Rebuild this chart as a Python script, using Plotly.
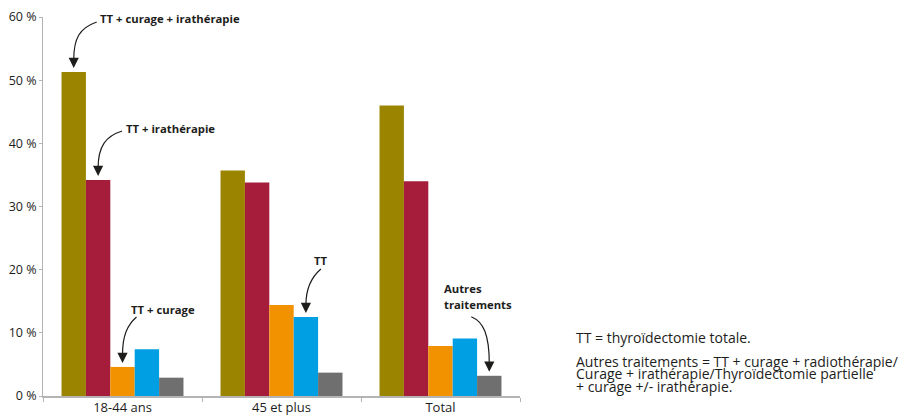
import plotly.graph_objects as go

# données (en %)
categories = ["18-44 ans", "45 et plus", "Total"]
series_names = ["TT + curage + irathérapie", "TT + irathérapie", "TT + curage", "TT", "Autres traitements"]
tt_curage_irath = [51.3, 35.7, 46.0]
tt_irath = [34.2, 33.8, 34.0]
tt_curage = [4.6, 14.4, 7.9]
tt_seul = [7.4, 12.5, 9.1]
autres = [2.9, 3.7, 3.2]
y_ticks = [0, 10, 20, 30, 40, 50, 60]

series = [tt_curage_irath, tt_irath, tt_curage, tt_seul, autres]
colors = ["#9b8500", "#a51d3a", "#f39200", "#009fe3", "#706f6f"]

# the page body has an 8px margin, so the figure is drawn 8px smaller
PAGE = 8
W, H = 912 - PAGE, 415 - PAGE
ML, MT = 43 - PAGE, 17 - PAGE
MR, MB = W - (520 - PAGE), H - (396 - PAGE)
BARGAP = 0.233
PLOT_W = W - ML - MR
PLOT_H = H - MT - MB
PX_X = PLOT_W / len(categories)
PX_Y = PLOT_H / 60.0
TIP = 4  # px between bar top and arrow tip
INK = "#1d1d1b"
FONT = "Open Sans"


def bar_x(i, j):
    w = (1 - BARGAP) / len(series)
    return i - (1 - BARGAP) / 2 + (j + 0.5) * w


def pt(i, j, dx, dy):
    # dx, dy in pixels relative to the arrow tip (dy upwards)
    return bar_x(i, j) + dx / PX_X, series[j][i] + (TIP + dy) / PX_Y


fig = go.Figure()
for name, vals, c in zip(series_names, series, colors):
    fig.add_trace(go.Bar(x=categories, y=vals, name=name, marker=dict(color=c, line=dict(width=0))))

# callouts: (category, series, lines of text, text anchor, text offset, curve points)
callouts = [
    (0, 0, ["TT + curage + irathérapie"], "left", (24, 49), [(23, 46), (6, 40), (0, 30), (0, 8)]),
    (0, 1, ["TT + irathérapie"], "left", (26, 47), [(24, 45), (8, 40), (0, 30), (0, 8)]),
    (0, 2, ["TT + curage"], "left", (6, 53), [(14, 46), (5, 38), (0, 28), (0, 8)]),
    (1, 3, ["TT"], "center", (15, 53), [(15, 44), (8, 38), (0, 28), (0, 8)]),
    (2, 4, ["Autres", "traitements"], "left", (-47, 83), [(-18, 55), (-6, 50), (0, 38), (0, 8)]),
]

for i, j, lines, anchor, (tx, ty), pts in callouts:
    p = [pt(i, j, dx, dy) for dx, dy in pts]
    path = "M{},{} C{},{} {},{} {},{}".format(*[v for xy in p for v in xy])
    fig.add_shape(type="path", path=path, xref="x", yref="y",
                  line=dict(color=INK, width=1.2))
    tipx, tipy = pt(i, j, 0, 0)
    fig.add_annotation(x=tipx, y=tipy, xref="x", yref="y", text="", showarrow=True,
                       ax=0, ay=-9, arrowhead=2, arrowsize=1.7, arrowwidth=1.2,
                       arrowcolor=INK, standoff=0)
    for k, line in enumerate(lines):
        lx, ly = pt(i, j, tx, ty - k * 16)
        fig.add_annotation(x=lx, y=ly, xref="x", yref="y", text="<b>" + line + "</b>",
                           showarrow=False, xanchor=anchor, yanchor="middle",
                           font=dict(family=FONT, size=11.3, color=INK))

# note à droite (positions in page pixels)
notes = [
    ("TT = thyroïdectomie totale.", 337),
    ("Autres traitements = TT + curage + radiothérapie/", 361),
    ("Curage + irathérapie/Thyroïdectomie partielle", 373.5),
    ("+ curage +/- irathérapie.", 386),
]
for txt, ypix in notes:
    fig.add_annotation(x=(574 - 43) / PLOT_W, y=(396 - ypix) / PLOT_H, xref="paper", yref="paper",
                       text=txt, showarrow=False, xanchor="left", yanchor="middle",
                       font=dict(family=FONT, size=14, color=INK))

fig.update_layout(
    template="none",
    width=W, height=H,
    margin=dict(l=ML, r=MR, t=MT, b=MB),
    barmode="group", bargap=BARGAP, bargroupgap=0,
    showlegend=False,
    plot_bgcolor="white", paper_bgcolor="white",
    font=dict(family=FONT, color=INK),
)
fig.update_xaxes(type="category", showline=True, linecolor="#b4b4b4", linewidth=2,
                 ticks="outside", tickson="boundaries", ticklen=4, tickcolor="#b4b4b4",
                 ticklabelstandoff=-2,
                 showgrid=False, zeroline=False, automargin=False,
                 tickfont=dict(family=FONT, size=13, color=INK))
fig.update_yaxes(range=[0, 60], tickvals=y_ticks, ticktext=[f"{v} %" for v in y_ticks],
                 showline=True, linecolor="#b4b4b4", linewidth=1,
                 ticks="outside", ticklen=3, tickcolor="#b4b4b4",
                 showgrid=False, zeroline=False, automargin=False,
                 tickfont=dict(family=FONT, size=12.5, color=INK))

fig.write_html("out.html")
